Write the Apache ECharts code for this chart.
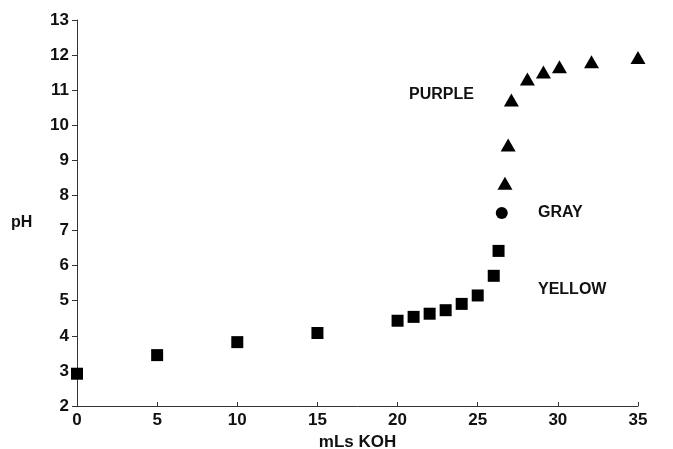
<!DOCTYPE html>
<html>
<head>
<meta charset="utf-8">
<script src="https://cdn.jsdelivr.net/npm/echarts@6/dist/echarts.min.js"></script>
<style>
  html, body { margin: 0; padding: 0; background: #fff; }
  #chart { width: 673px; height: 449px; }
</style>
</head>
<body>
<div id="chart"></div>
<script>
// yellow range (squares)
const yellowX = [0, 5, 10, 15, 20, 21, 22, 23, 24, 25, 26, 26.3]
const yellowY = [2.92, 3.45, 3.82, 4.08, 4.43, 4.54, 4.63, 4.73, 4.91, 5.15, 5.71, 6.42]
// gray (circle)
const grayX = [26.5]
const grayY = [7.5]
// purple range (triangles)
const purpleX = [26.7, 26.9, 27.1, 28.1, 29.1, 30.1, 32.1, 35]
const purpleY = [8.35, 9.44, 10.72, 11.32, 11.52, 11.67, 11.81, 11.93]

const zip = (xs, ys) => xs.map((x, i) => [x, ys[i]])

const font = 'Liberation Sans'
const ink = '#111'

const chart = echarts.init(document.getElementById('chart'))
const option = {
  animation: false,
  backgroundColor: '#fff',
  grid: { left: 77, right: 35, top: 20, bottom: 43, containLabel: false, outerBoundsMode: 'none' },
  xAxis: {
    type: 'value',
    min: 0, max: 35, interval: 5,
    name: 'mLs KOH',
    nameLocation: 'middle',
    nameGap: 27,
    nameTextStyle: { fontFamily: font, fontSize: 17, fontWeight: 'bold', color: ink },
    axisLine: { lineStyle: { color: '#333', width: 1 } },
    axisTick: { show: true, inside: true, length: 4, lineStyle: { color: '#333' } },
    axisLabel: { fontFamily: font, fontSize: 17, fontWeight: 'bold', color: ink, margin: 6 },
    splitLine: { show: false }
  },
  yAxis: {
    type: 'value',
    min: 2, max: 13, interval: 1,
    axisLine: { show: true, lineStyle: { color: '#333', width: 1 } },
    axisTick: { show: true, length: 5, lineStyle: { color: '#333' } },
    axisLabel: { fontFamily: font, fontSize: 17, fontWeight: 'bold', color: ink, margin: 8 },
    splitLine: { show: false }
  },
  graphic: [
    { type: 'text', left: 11, top: 215, style: { text: 'pH', font: 'bold 16px "Liberation Sans"', fill: ink } },
    { type: 'text', left: 409, top: 87, style: { text: 'PURPLE', font: 'bold 16px "Liberation Sans"', fill: ink } },
    { type: 'text', left: 538, top: 205, style: { text: 'GRAY', font: 'bold 16px "Liberation Sans"', fill: ink } },
    { type: 'text', left: 538, top: 282, style: { text: 'YELLOW', font: 'bold 16px "Liberation Sans"', fill: ink } }
  ],
  series: [
    {
      type: 'scatter',
      data: zip(yellowX, yellowY),
      symbol: 'rect',
      symbolSize: 12,
      clip: false,
      itemStyle: { color: '#000', opacity: 1 }
    },
    {
      type: 'scatter',
      data: zip(grayX, grayY),
      symbol: 'circle',
      symbolSize: 12,
      clip: false,
      itemStyle: { color: '#000', opacity: 1 }
    },
    {
      type: 'scatter',
      data: zip(purpleX, purpleY),
      symbol: 'triangle',
      symbolSize: [15, 13],
      clip: false,
      itemStyle: { color: '#000', opacity: 1 }
    }
  ]
}
chart.setOption(option)
</script>
</body>
</html>
